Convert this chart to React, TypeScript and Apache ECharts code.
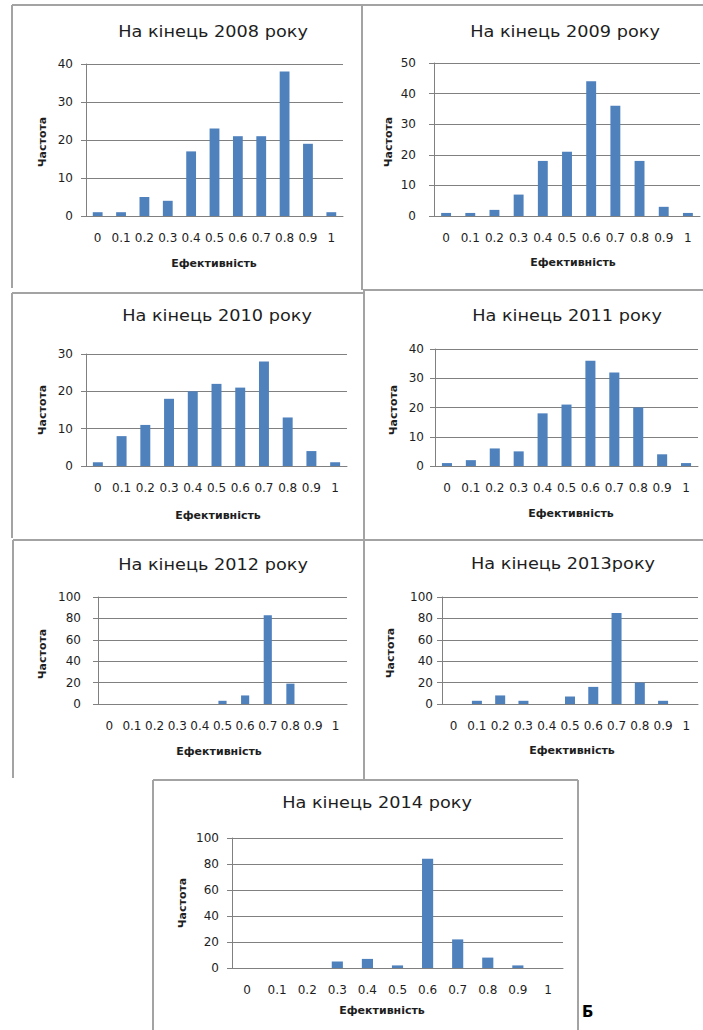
import React, { useEffect, useRef } from "react";
import * as echarts from "echarts";

// ---- data ----
const categories = ["0", "0.1", "0.2", "0.3", "0.4", "0.5", "0.6", "0.7", "0.8", "0.9", "1"];
const titles = [
  "На кінець 2008 року",
  "На кінець 2009 року",
  "На кінець 2010 року",
  "На кінець 2011 року",
  "На кінець 2012 року",
  "На кінець 2013року",
  "На кінець 2014 року",
];
const freq2008 = [1, 1, 5, 4, 17, 23, 21, 21, 38, 19, 1];
const freq2009 = [1, 1, 2, 7, 18, 21, 44, 36, 18, 3, 1];
const freq2010 = [1, 8, 11, 18, 20, 22, 21, 28, 13, 4, 1];
const freq2011 = [1, 2, 6, 5, 18, 21, 36, 32, 20, 4, 1];
const freq2012 = [0, 0, 0, 0, 0, 3, 8, 83, 19, 0, 0];
const freq2013 = [0, 3, 8, 3, 0, 7, 16, 85, 20, 3, 0];
const freq2014 = [0, 0, 0, 5, 7, 2, 84, 22, 8, 2, 0];
const yMax = [40, 50, 30, 40, 100, 100, 100];
const yStep = [10, 10, 10, 10, 20, 20, 20];
const yAxisTitle = "Частота";
const xAxisTitle = "Ефективність";

const allFreq = [freq2008, freq2009, freq2010, freq2011, freq2012, freq2013, freq2014];

// ---- layout (page pixels) ----
const layouts = [
  { gl: 86, gt: 64, gr: 343, gb: 216, tx: 213, ty: 32, yx: 42, yy: 142, xx: 214, xy: 263, lm: 13, gap: "58%" },
  { gl: 434, gt: 63, gr: 700, gb: 216, tx: 565, ty: 32, yx: 388, yy: 142, xx: 573, xy: 262, lm: 18, gap: "59%" },
  { gl: 86, gt: 354, gr: 347, gb: 466, tx: 217, ty: 316, yx: 42, yy: 410, xx: 218, xy: 515, lm: 13, gap: "58%" },
  { gl: 435, gt: 349, gr: 698, gb: 466, tx: 567, ty: 316, yx: 393, yy: 410, xx: 571, xy: 513, lm: 11, gap: "58%" },
  { gl: 98, gt: 597, gr: 347, gb: 704, tx: 213, ty: 565, yx: 42, yy: 654, xx: 219, xy: 751, lm: 17, gap: "64%" },
  { gl: 442, gt: 597, gr: 698, gb: 704, tx: 563, ty: 564, yx: 390, yy: 653, xx: 572, xy: 750, lm: 9, gap: "57%" },
  { gl: 232, gt: 838, gr: 563, gb: 968, tx: 377, ty: 803, yx: 182, yy: 903, xx: 382, xy: 1010, lm: 13, gap: "63%" },
];

const borderLines: number[][] = [
  [12, 5, 703, 5],
  [12, 5, 12, 288],
  [362, 5, 362, 290],
  [12, 293, 363, 293],
  [363, 290, 703, 290],
  [12, 293, 12, 538],
  [364, 290, 364, 780],
  [13, 540, 703, 540],
  [13, 540, 13, 778],
  [153, 780, 578, 780],
  [153, 780, 153, 1030],
  [578, 780, 578, 1030],
];

const FONT = "'DejaVu Sans', sans-serif";
const TEXT = "#1e1e1e";
const GRID = "#808080";
const BAR = "#4F81BD";

export default function App() {
  const ref = useRef<HTMLDivElement>(null);
  useEffect(() => {
    if (!ref.current) return;
    const chart = echarts.init(ref.current, null, { renderer: "svg" });
    const grid: any[] = [];
    const xAxis: any[] = [];
    const yAxis: any[] = [];
    const series: any[] = [];
    const graphic: any[] = [];

    layouts.forEach((L, i) => {
      grid.push({ left: L.gl, top: L.gt, width: L.gr - L.gl, height: L.gb - L.gt, containLabel: false });
      xAxis.push({
        type: "category",
        gridIndex: i,
        data: categories,
        axisLine: { show: true, lineStyle: { color: GRID, width: 1 } },
        axisTick: { show: false },
        axisLabel: { interval: 0, margin: 16, fontFamily: FONT, fontSize: 12, color: TEXT, hideOverlap: false },
        splitLine: { show: false },
      });
      yAxis.push({
        type: "value",
        gridIndex: i,
        min: 0,
        max: yMax[i],
        interval: yStep[i],
        axisLine: { show: true, lineStyle: { color: GRID, width: 1 } },
        axisTick: { show: true, length: 5, lineStyle: { color: GRID } },
        axisLabel: { margin: L.lm, fontFamily: FONT, fontSize: 12, color: TEXT },
        splitLine: { show: true, lineStyle: { color: GRID, width: 1 } },
      });
      series.push({
        type: "bar",
        xAxisIndex: i,
        yAxisIndex: i,
        data: allFreq[i],
        barCategoryGap: L.gap,
        itemStyle: { color: BAR },
        silent: true,
      });
      graphic.push({
        type: "text",
        x: L.tx,
        y: L.ty,
        scaleX: 1.18,
        style: { text: titles[i], fontFamily: FONT, fontSize: 15, fill: TEXT, align: "center", verticalAlign: "middle" },
        silent: true,
      });
      graphic.push({
        type: "text",
        x: L.xx,
        y: L.xy,
        style: { text: xAxisTitle, fontFamily: FONT, fontSize: 11, fontWeight: "bold", fill: TEXT, align: "center", verticalAlign: "middle" },
        silent: true,
      });
      graphic.push({
        type: "text",
        x: L.yx,
        y: L.yy,
        rotation: Math.PI / 2,
        style: { text: yAxisTitle, fontFamily: FONT, fontSize: 11, fontWeight: "bold", fill: TEXT, align: "center", verticalAlign: "middle" },
        silent: true,
      });
    });

    borderLines.forEach((b) => {
      graphic.push({
        type: "line",
        shape: { x1: b[0], y1: b[1], x2: b[2], y2: b[3] },
        style: { stroke: "#a3a3a3", lineWidth: 2 },
        silent: true,
      });
    });

    graphic.push({
      type: "text",
      x: 582,
      y: 1012,
      style: { text: "Б", fontFamily: FONT, fontSize: 15, fontWeight: "bold", fill: "#000", align: "left", verticalAlign: "middle" },
      silent: true,
    });

    chart.setOption({
      animation: false,
      backgroundColor: "#ffffff",
      grid,
      xAxis,
      yAxis,
      series,
      graphic,
    });
    return () => chart.dispose();
  }, []);

  return (
    <div
      ref={ref}
      style={{ position: "absolute", left: 0, top: 0, width: 703, height: 1030, background: "#fff" }}
    />
  );
}
